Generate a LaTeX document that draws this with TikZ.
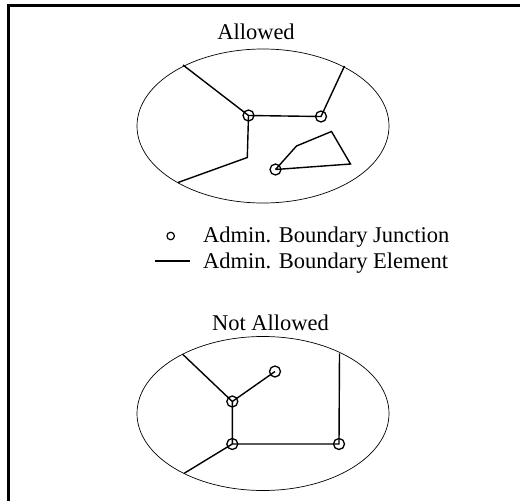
\documentclass[tikz,border=0pt]{standalone}
\usepackage{fontspec}
\setmainfont{Liberation Serif}
\usetikzlibrary{shapes.geometric}

\begin{document}
\begin{tikzpicture}[
  x=1pt,y=-1pt,
  font=\fontsize{22.5}{26}\selectfont,
  zone/.style={draw,ellipse,line width=0.7pt,
               minimum width=252pt,minimum height=154pt,inner sep=0pt},
  junc/.style={draw,circle,line width=1.3pt,minimum size=11pt,inner sep=0pt},
  keyjunc/.style={draw,circle,line width=1.2pt,minimum size=7.5pt,inner sep=0pt},
  bnd/.style={line width=1.4pt},
  lbl/.style={inner sep=0pt,anchor=base},
  keylbl/.style={inner sep=0pt,anchor=base west},
  frame/.style={line width=2.6pt},
]
  \useasboundingbox (0,0) rectangle (520,501);
  \draw[frame] (520,5.5) -| (8.7,501);

  % allowed
  \node[lbl] (allowed) at (256,39.5) {Allowed};
  \node[zone] (zA) at (263,126) {};

  \coordinate (a0) at (183,65);
  \coordinate (a5) at (344.5,66);
  \coordinate (a6) at (247.3,157.5);
  \coordinate (a7) at (178,182.5);
  \coordinate (p1) at (296.5,146);
  \coordinate (p2) at (331.5,131.5);
  \coordinate (p3) at (350.5,164);

  \node[junc] (a1) at (248.5,115.5) {};
  \node[junc] (a2) at (321,116.5) {};
  \node[junc] (a3) at (275.5,169.5) {};

  \draw[bnd] (a0) -- (a1.center) -- (a2.center) -- (a5);
  \draw[bnd] (a1.center) -- (a6) -- (a7);
  \draw[bnd] (a3.center) -- (p1) -- (p2) -- (p3) -- (a3.center);

  % legend
  \node[keyjunc] (kj) at (170.7,236) {};
  \node[keylbl] (kjl) at (203,242) {Admin. Boundary Junction};
  \coordinate (ke0) at (155,261);
  \coordinate (ke1) at (190,261);
  \draw[line width=1.2pt] (ke0) -- (ke1);
  \node[keylbl] (kel) at (203,268) {Admin. Boundary Element};

  % not allowed
  \node[lbl] (notallowed) at (270.5,330) {Not Allowed};
  \node[zone] (zN) at (263,413.5) {};

  \coordinate (b0) at (182.7,354.3);
  \coordinate (b5) at (184.2,473.3);
  \coordinate (b6) at (339.5,353.3);

  \node[junc] (b1) at (232.3,401.5) {};
  \node[junc] (b2) at (275,371.5) {};
  \node[junc] (b3) at (232.3,444) {};
  \node[junc] (b4) at (339,444) {};

  \draw[bnd] (b0) -- (b1.center) -- (b2.center);
  \draw[bnd] (b1.center) -- (b3.center) -- (b4.center) -- (b6);
  \draw[bnd] (b3.center) -- (b5);
\end{tikzpicture}
\end{document}
